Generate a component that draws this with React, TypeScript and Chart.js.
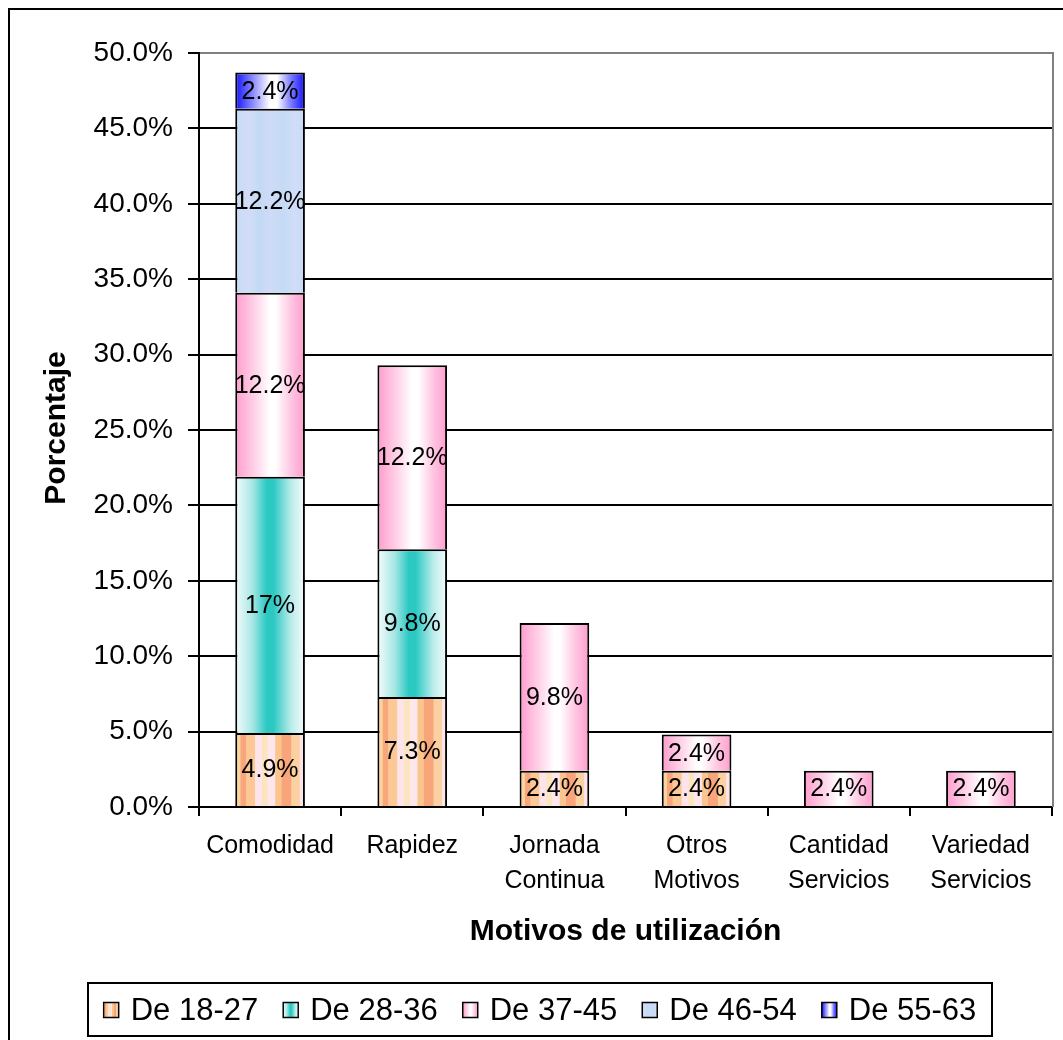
import React, { useEffect, useRef } from 'react';
import { Chart, registerables } from 'chart.js';

Chart.register(...registerables);

const CATEGORIES: (string | string[])[] = [
  'Comodidad',
  'Rapidez',
  ['Jornada', 'Continua'],
  ['Otros', 'Motivos'],
  ['Cantidad', 'Servicios'],
  ['Variedad', 'Servicios'],
];
const SERIES_NAMES = ['De 18-27', 'De 28-36', 'De 37-45', 'De 46-54', 'De 55-63'];
const AGE_18_27 = [4.9, 7.3, 2.4, 2.4, null, null];
const AGE_28_36 = [17, 9.8, null, null, null, null];
const AGE_37_45 = [12.2, 12.2, 9.8, 2.4, 2.4, 2.4];
const AGE_46_54 = [12.2, null, null, null, null, null];
const AGE_55_63 = [2.4, null, null, null, null, null];
const Y_MIN = 0;
const Y_MAX = 50;
const Y_STEP = 5;
const X_TITLE = 'Motivos de utilización';
const Y_TITLE = 'Porcentaje';

const FONT = '"Liberation Sans", Arial, Helvetica, sans-serif';
const BAR_PCT = 0.49;
const W = 1063;
const H = 1040;

type Stop = [number, string];
const FILLS: Stop[][] = [
  [
    [0, '#fbd39e'], [0.07, '#fbd39e'], [0.08, '#f8a77d'], [0.15, '#f8a77d'],
    [0.16, '#fbc896'], [0.28, '#fbc896'], [0.29, '#fde3ea'], [0.38, '#fde3ea'],
    [0.39, '#fbe5bf'], [0.46, '#fbe5bf'], [0.47, '#fde6ec'], [0.57, '#fde6ec'],
    [0.58, '#fbc58e'], [0.66, '#fbc58e'], [0.67, '#f8a57b'], [0.8, '#f8a57b'],
    [0.81, '#fcd1a2'], [0.92, '#fcd1a2'], [0.93, '#fde3ea'], [1, '#fde3ea'],
  ],
  [[0, '#f6fcfc'], [0.25, '#a5e6e4'], [0.45, '#2cc9c3'], [0.55, '#2cc9c3'], [0.8, '#b9ecea'], [1, '#f6fcfc']],
  [[0, '#ff9ccd'], [0.3, '#ffd6ea'], [0.5, '#ffffff'], [0.58, '#ffffff'], [0.8, '#ffc6e2'], [1, '#ff9ccd']],
  [[0, '#c6dbf5'], [0.2, '#d3dcf8'], [0.35, '#c2daf4'], [0.5, '#cfdaf7'], [0.7, '#c4dbf5'], [0.85, '#d2dcf8'], [1, '#c6dbf5']],
  [[0, '#1212ff'], [0.25, '#8a8aff'], [0.5, '#ffffff'], [0.6, '#ffffff'], [0.8, '#7a7aff'], [1, '#1212ff']],
];

function fmt(v: number): string {
  return Number.isInteger(v) ? `${v}%` : `${v.toFixed(1)}%`;
}

function makeGrad(c: CanvasRenderingContext2D, x0: number, x1: number, stops: Stop[]) {
  const g = c.createLinearGradient(x0, 0, x1, 0);
  stops.forEach(([o, col]) => g.addColorStop(o, col));
  return g;
}

function barFill(stops: Stop[]) {
  return (ctx: any) => {
    const chart = ctx.chart;
    const xs = chart.scales && chart.scales.x;
    const fallback = stops[Math.floor(stops.length / 2)][1];
    if (!xs || ctx.dataIndex === undefined) return fallback;
    const cx = xs.getPixelForValue(ctx.dataIndex);
    const w = (xs.width / CATEGORIES.length) * BAR_PCT;
    if (!isFinite(cx) || !isFinite(w) || w <= 0) return fallback;
    return makeGrad(chart.ctx, cx - w / 2, cx + w / 2, stops);
  };
}

const decorPlugin = {
  id: 'decor',
  afterDatasetsDraw(chart: any) {
    const c: CanvasRenderingContext2D = chart.ctx;
    c.save();
    c.font = `25px ${FONT}`;
    c.fillStyle = '#000';
    c.textAlign = 'center';
    c.textBaseline = 'middle';
    chart.data.datasets.forEach((ds: any, di: number) => {
      const meta = chart.getDatasetMeta(di);
      meta.data.forEach((el: any, i: number) => {
        const v = ds.data[i];
        if (v == null) return;
        const p = el.getProps(['x', 'y', 'base'], true);
        c.fillText(fmt(v), p.x, (p.y + p.base) / 2 + 1);
      });
    });
    c.restore();
  },
  afterDraw(chart: any) {
    const c: CanvasRenderingContext2D = chart.ctx;
    const a = chart.chartArea;
    c.save();
    // right plot border
    c.strokeStyle = '#808080';
    c.lineWidth = 2;
    c.beginPath();
    c.moveTo(a.right + 1, a.top - 1);
    c.lineTo(a.right + 1, a.bottom);
    c.stroke();
    // outer frame (left & top)
    c.strokeStyle = '#000';
    c.lineWidth = 2;
    c.beginPath();
    c.moveTo(9, H);
    c.lineTo(9, 9);
    c.lineTo(W, 9);
    c.stroke();
    // axis titles
    c.fillStyle = '#000';
    c.font = `bold 30px ${FONT}`;
    c.textAlign = 'center';
    c.textBaseline = 'middle';
    c.fillText(X_TITLE, (a.left + a.right) / 2, 932);
    c.save();
    c.translate(57, 428);
    c.rotate(-Math.PI / 2);
    c.fillText(Y_TITLE, 0, 0);
    c.restore();
    // legend
    const bx0 = 88, bx1 = 992, by0 = 983, by1 = 1036;
    c.fillStyle = '#fff';
    c.fillRect(bx0, by0, bx1 - bx0, by1 - by0);
    c.strokeStyle = '#000';
    c.lineWidth = 2;
    c.strokeRect(bx0, by0, bx1 - bx0, by1 - by0);
    c.font = `31px ${FONT}`;
    const box = 15, gap = 12, itemGap = 25;
    const widths = SERIES_NAMES.map((n) => c.measureText(n).width);
    const total = widths.reduce((s, w) => s + w + box + gap, 0) + itemGap * (SERIES_NAMES.length - 1);
    let x = (bx0 + bx1) / 2 - total / 2;
    const cy = (by0 + by1) / 2 + 0.5;
    c.textAlign = 'left';
    SERIES_NAMES.forEach((n, i) => {
      c.fillStyle = makeGrad(c, x, x + box, FILLS[i]);
      c.fillRect(x, cy - box / 2, box, box);
      c.lineWidth = 1.5;
      c.strokeStyle = '#000';
      c.strokeRect(x, cy - box / 2, box, box);
      c.fillStyle = '#000';
      c.fillText(n, x + box + gap, cy + 1);
      x += box + gap + widths[i] + itemGap;
    });
    c.restore();
  },
};

export default function App() {
  const ref = useRef<HTMLCanvasElement>(null);
  useEffect(() => {
    if (!ref.current) return;
    const series = [AGE_18_27, AGE_28_36, AGE_37_45, AGE_46_54, AGE_55_63];
    const chart = new Chart(ref.current, {
      type: 'bar',
      data: {
        labels: CATEGORIES as any,
        datasets: series.map((d, i) => ({
          label: SERIES_NAMES[i],
          data: d as any,
          backgroundColor: barFill(FILLS[i]) as any,
          borderColor: '#000',
          borderWidth: 2,
          barPercentage: BAR_PCT,
          categoryPercentage: 1,
        })),
      },
      options: {
        responsive: false,
        animation: false,
        layout: { padding: { top: 53, right: 11, left: 0, bottom: 0 } },
        plugins: { legend: { display: false }, tooltip: { enabled: false }, title: { display: false } },
        scales: {
          x: {
            stacked: true,
            afterFit: (s: any) => { s.height = 233; },
            grid: { drawOnChartArea: false, drawTicks: true, tickLength: 9, color: '#000', lineWidth: 2, offset: true },
            border: { display: true, color: '#000', width: 2 },
            ticks: { color: '#000', padding: 13, maxRotation: 0, autoSkip: false, font: { family: FONT, size: 25, lineHeight: 1.38 } },
          },
          y: {
            stacked: true,
            min: Y_MIN,
            max: Y_MAX,
            afterFit: (s: any) => { s.width = 199; },
            grid: {
              color: (ctx: any) => (ctx.tick && ctx.tick.value === Y_MAX ? '#808080' : '#000'),
              tickColor: '#000',
              lineWidth: 2,
              drawTicks: true,
              tickLength: 11,
            },
            border: { display: true, color: '#000', width: 2 },
            ticks: {
              stepSize: Y_STEP,
              color: '#000',
              padding: 15,
              font: { family: FONT, size: 28 },
              callback: (v: any) => `${Number(v).toFixed(1)}%`,
            },
          },
        },
      },
      plugins: [decorPlugin],
    });
    return () => chart.destroy();
  }, []);
  return (
    <div style={{ position: 'fixed', left: 0, top: 0, width: W, height: H, background: '#fff' }}>
      <canvas ref={ref} width={W} height={H} style={{ display: 'block', width: W, height: H }} />
    </div>
  );
}
